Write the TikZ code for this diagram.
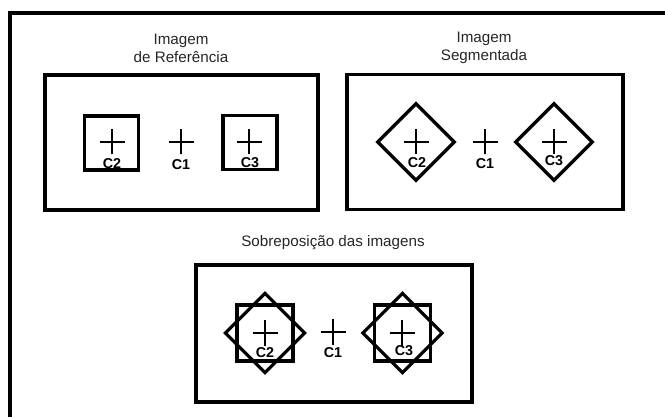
\documentclass[tikz,border=0pt]{standalone}
\usepackage{fontspec}
\setmainfont{Liberation Sans}
\begin{document}
\begin{tikzpicture}[x=1pt,y=-1pt,
  frameline/.style={line width=3.6pt},
  bigbox/.style={draw, line width=3.8pt, rectangle, inner sep=0pt, minimum width=275pt, minimum height=136pt},
  sq/.style={draw, line width=3.3pt, rectangle, inner sep=0pt, minimum size=54pt},
  dia/.style={sq, rotate=45},
  crossline/.style={line width=2.4pt},
  clabel/.style={font=\bfseries\fontsize{14.3}{15}\selectfont, inner sep=0pt},
  heading/.style={font=\fontsize{15.2}{18}\selectfont, align=center, inner sep=0pt, text=black!85}
]
\useasboundingbox (0,0) rectangle (665,417);
% outer frame (open on right and bottom)
\coordinate (fbl) at (9.8,420);
\coordinate (ftl) at (9.8,13.3);
\coordinate (ftr) at (668,13.3);
\draw[frameline] (fbl) -- (ftl) -- (ftr);

% headings
\node[heading] (h1) at (181,48) {Imagem\\de Referência};
\node[heading] (h2) at (484,48) {Imagem\\Segmentada};
\node[heading] (h3) at (333,243) {Sobreposição das imagens};

% big boxes
\node[bigbox, minimum width=273.6pt, minimum height=135.6pt] (b1) at (181.5,142.5) {};
\node[bigbox, minimum width=276pt, minimum height=135pt] (b2) at (485,142) {};
\node[bigbox, minimum width=275.7pt, minimum height=137pt] (b3) at (333.8,333.4) {};

% box 1: reference squares
\node[sq] (r2) at (111.7,143) {};
\node[sq] (r3) at (250,142.8) {};
\coordinate (x12) at (112,142);
\coordinate (x11) at (181,142);
\coordinate (x13) at (249,142);
\node[clabel] (l12) at (112,163.5) {C2};
\node[clabel] (l11) at (181,165) {C1};
\node[clabel] (l13) at (250,162.5) {C3};

% box 2: segmented diamonds
\node[dia] (s2) at (416,142) {};
\node[dia] (s3) at (554,142) {};
\coordinate (x22) at (416,142);
\coordinate (x21) at (485,142);
\coordinate (x23) at (554,142);
\node[clabel] (l22) at (417,162.5) {C2};
\node[clabel] (l21) at (485,164) {C1};
\node[clabel] (l23) at (554,161) {C3};

% box 3: overlay
\node[sq, minimum size=56pt] (o2s) at (265,333) {};
\node[dia, minimum size=56pt] (o2d) at (265,333) {};
\node[sq, minimum size=56pt] (o3s) at (402.5,333) {};
\node[dia, minimum size=56pt] (o3d) at (402.5,333) {};
\coordinate (x32) at (265,333);
\coordinate (x31) at (333,332);
\coordinate (x33) at (402,333);
\node[clabel] (l32) at (265,352.5) {C2};
\node[clabel] (l31) at (333,353) {C1};
\node[clabel] (l33) at (404,351) {C3};

% crosses
\foreach \c in {x12,x11,x13,x22,x21,x23,x32,x31,x33}{
  \draw[crossline] ([xshift=-12.5pt]\c) -- ([xshift=12.5pt]\c);
  \draw[crossline] ([yshift=-12.5pt]\c) -- ([yshift=12.5pt]\c);
}
\end{tikzpicture}
\end{document}
